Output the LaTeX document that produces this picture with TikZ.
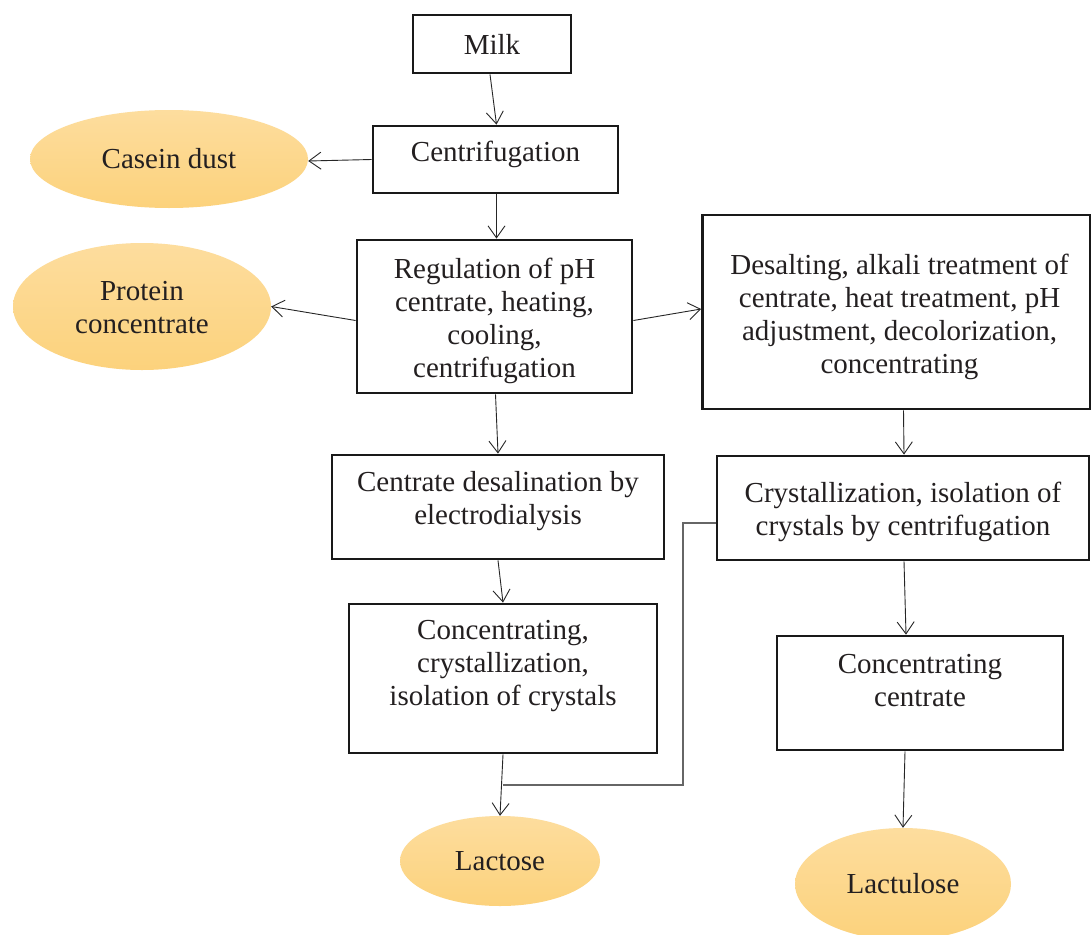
\documentclass[tikz,border=0pt]{standalone}
\usepackage{fontspec}
\setmainfont{Liberation Serif}
\usetikzlibrary{shapes.geometric,arrows.meta}
\definecolor{ovtop}{HTML}{FDDD9E}
\definecolor{ovbot}{HTML}{FCD27C}
\definecolor{txt}{HTML}{231F20}
\begin{document}
\begin{tikzpicture}[x=1pt,y=-1pt,
  every node/.style={font=\fontsize{29}{33}\selectfont, text=txt, align=center, inner sep=0pt},
  every label/.style={inner sep=0pt},
  procbox/.style={draw=black!90, line width=2.8pt, rectangle},
  oval/.style={ellipse, top color=ovtop, bottom color=ovbot, draw=none},
  arr/.style={draw=black!85, line width=0.9pt, -{Straight Barb[length=12pt,width=17pt,line width=0.9pt]}},
  link/.style={draw=black!60, line width=1.4pt}]
\useasboundingbox (0,0) rectangle (1091,934);
\fill[white] (0,0) rectangle (1091,934);

\node[procbox, minimum width=158pt, minimum height=58pt] (milk) at (492,44) {Milk};
\node[procbox, minimum width=245pt, minimum height=67pt,
  label={[yshift=5pt]center:{Centrifugation}}] (cent) at (495.5,159.5) {};
\node[oval, minimum width=278pt, minimum height=98pt] (casein) at (169,159) {Casein dust};
\node[procbox, minimum width=275pt, minimum height=153pt,
  label={[yshift=-4.5pt]center:{Regulation of pH\\centrate, heating,\\cooling,\\centrifugation}}] (reg) at (494.5,316.5) {};
\node[oval, minimum width=258pt, minimum height=127pt,
  label={[yshift=-1.5pt]center:{Protein\\concentrate}}] (prot) at (142,306.5) {};
\node[procbox, minimum width=388pt, minimum height=194pt,
  label={[yshift=-4.5pt,xshift=3pt]center:{Desalting, alkali treatment of\\centrate, heat treatment, pH\\adjustment, decolorization,\\concentrating}}] (desalt) at (896.5,312) {};
\node[procbox, minimum width=332pt, minimum height=104pt,
  label={[yshift=5.5pt]center:{Centrate desalination by\\electrodialysis}}] (cdesal) at (498,507) {};
\node[procbox, minimum width=372pt, minimum height=104pt,
  label={[yshift=-4pt]center:{Crystallization, isolation of\\crystals by centrifugation}}] (cryst) at (903,508) {};
\node[procbox, minimum width=308pt, minimum height=149pt,
  label={[yshift=12pt]center:{Concentrating,\\crystallization,\\isolation of crystals}}] (conc) at (503,678.5) {};
\node[procbox, minimum width=286pt, minimum height=114pt,
  label={[yshift=12.5pt]center:{Concentrating\\centrate}}] (ccent) at (920,693) {};
\node[oval, minimum width=200pt, minimum height=90pt] (lact) at (500,861) {Lactose};
\node[oval, minimum width=216pt, minimum height=112pt] (lactu) at (903,884) {Lactulose};

\coordinate (j1) at (683,523);
\coordinate (j2) at (683,785);
\coordinate (j3) at (503,785);

\draw[arr] ([xshift=-2pt]milk.south) -- ([xshift=1pt]cent.north);
\draw[arr] (cent.west) -- ([yshift=-2pt]casein.east);
\draw[arr] ([xshift=1pt]cent.south) -- ([xshift=2pt]reg.north);
\draw[arr] ([yshift=-4pt]reg.west) -- (prot.east);
\draw[arr] ([yshift=-4pt]reg.east) -- ([yshift=3pt]desalt.west);
\draw[arr] ([xshift=1pt]reg.south) -- (cdesal.north);
\draw[arr] ([xshift=7pt]desalt.south) -- ([xshift=1pt]cryst.north);
\draw[arr] (cdesal.south) -- (conc.north);
\draw[arr] ([xshift=1pt]cryst.south) -- ([xshift=-14pt]ccent.north);
\draw[arr] (conc.south) -- (lact.north);
\draw[arr] ([xshift=-15pt]ccent.south) -- (lactu.north);
\draw[link] (cryst.west |- j1) -- (j1) -- (j2) -- (j3);
\end{tikzpicture}
\end{document}
